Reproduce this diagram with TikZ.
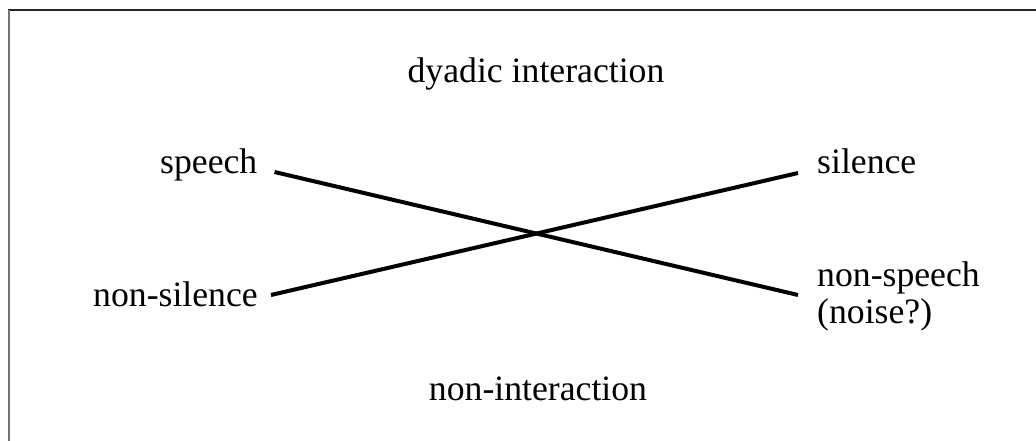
\documentclass[tikz,border=0pt]{standalone}
\usepackage{fontspec}
\setmainfont{Liberation Serif}
\usetikzlibrary{positioning}
\tikzset{word/.style={inner sep=0pt, font=\fontsize{35.7}{37}\selectfont}}
\tikzset{cross/.style={line width=4pt}}

\begin{document}
\begin{tikzpicture}[x=1pt, y=-1pt]
			\useasboundingbox (0,0) rectangle (1036,441);
			\draw[line width=2pt, black!85] (8,10) -- (1036,10);
			\draw[line width=2.2pt, black!55] (9,10) -- (9,441);
			\node (d) [word, anchor=base] at (536,83) {dyadic interaction};
			\node (s) [word, anchor=base west] at (160,173) {speech};
			\node (ns) [word, anchor=base west] at (93,306) {non-silence};
			\node (si) [word, anchor=base west] at (817,174) {silence};
			\node (np) [word, anchor=base west] at (817,286) {non-speech};
			\node (nz) [word, anchor=base west] at ([yshift=-37pt]np.base west) {(noise?)};
			\node (ni) [word, anchor=base] at (538,400) {non-interaction};
			\draw[cross] ([xshift=17pt, yshift=1pt]s.base east) -- ([xshift=-19pt, yshift=-9pt]np.base west);
			\draw[cross] ([xshift=13pt, yshift=11pt]ns.base east) -- ([xshift=-19pt, yshift=1pt]si.base west);
\end{tikzpicture}
\end{document}
